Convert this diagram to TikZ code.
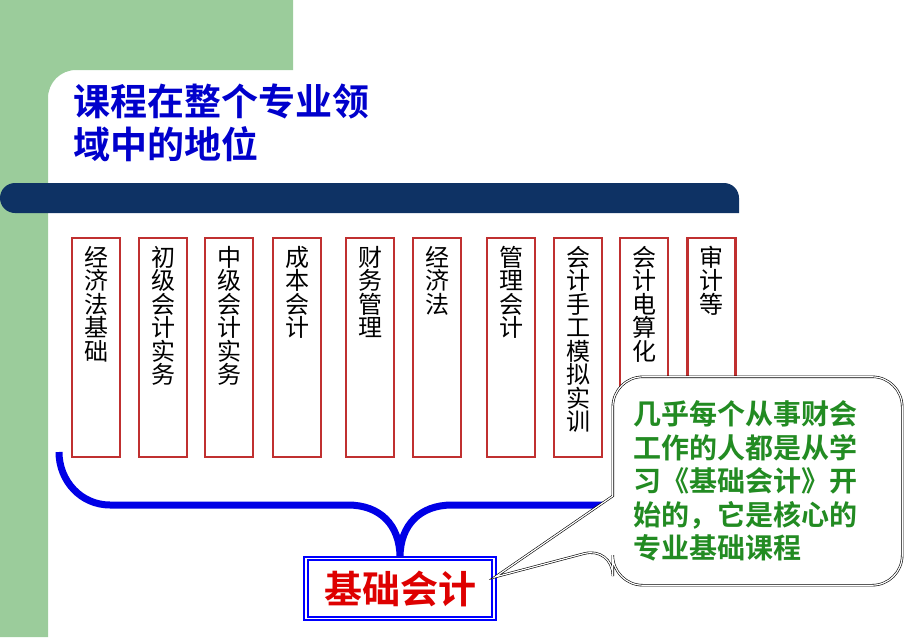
\documentclass[tikz,border=0pt]{standalone}
\usepackage{fontspec}
\setmainfont{Noto Sans CJK SC}[BoldFont={Noto Sans CJK SC Bold}]
\XeTeXlinebreaklocale "zh"
\XeTeXlinebreakskip=0pt plus 1pt
\usepackage{tikz}

\definecolor{bggreen}{RGB}{155,204,155}
\definecolor{barnavy}{RGB}{14,50,100}
\definecolor{headblue}{RGB}{0,0,204}
\definecolor{boxred}{RGB}{192,48,48}
\definecolor{braceblue}{RGB}{0,0,230}
\definecolor{basered}{RGB}{222,0,0}
\definecolor{notegreen}{RGB}{34,139,34}

\begin{document}
\begin{tikzpicture}[x=1pt, y=-1pt]
    \tikzstyle{subject} = [rectangle, draw=boxred, line width=2.5pt, fill=white, inner sep=0pt, minimum width=48pt, minimum height=219pt]
    \tikzstyle{subjtext} = [anchor=north, yshift=-9pt, inner sep=0pt, text width=24pt, align=center, font=\fontsize{24}{23.5}\selectfont]
    \tikzstyle{headline} = [anchor=north west, inner sep=0pt, align=left, text=headblue, font=\fontsize{37}{43}\selectfont\bfseries]
    \tikzstyle{basebox} = [rectangle, draw=blue, double=white, line width=2.2pt, double distance=1.3pt, fill=white, inner sep=0pt, minimum width=188pt, minimum height=60pt, text=basered, font=\fontsize{38}{40}\selectfont\bfseries]
    \tikzstyle{notearea} = [rectangle, inner sep=0pt, minimum width=289pt, minimum height=208pt]
    \tikzstyle{notetext} = [inner sep=0pt, align=left, text=notegreen, font=\fontsize{28}{33.5}\selectfont\bfseries]
    \tikzstyle{brace} = [braceblue, line width=7pt]
    \tikzstyle{calloutline} = [draw=black, line width=0.6pt, double=white, double distance=1.2pt, fill=white]
    \useasboundingbox (0,0) rectangle (920,637);
    % background
    \fill[bggreen] (0,0) -- (293,0) -- (293,70) -- (76,70) .. controls (60.5,70) and (48,82.5) .. (48,98)
        -- (48,637) -- (0,637) -- cycle;
    \fill[barnavy, rounded corners=15pt] (0,183) -- (739,183) [sharp corners] -- (739,213) [rounded corners=15pt] -- (0,213) -- cycle;
    \node[headline] (head) at (73,84) {课程在整个专业领\\域中的地位};
    % course boxes
    \node[subject] (s1) at (96,347.5) {};    \node[subjtext] at (s1.north) {经济法基础};
    \node[subject] (s2) at (163,347.5) {};   \node[subjtext] at (s2.north) {初级会计实务};
    \node[subject] (s3) at (229,347.5) {};   \node[subjtext] at (s3.north) {中级会计实务};
    \node[subject] (s4) at (297,347.5) {};   \node[subjtext] at (s4.north) {成本会计};
    \node[subject] (s5) at (370,347.5) {};   \node[subjtext] at (s5.north) {财务管理};
    \node[subject] (s6) at (437,347.5) {};   \node[subjtext] at (s6.north) {经济法};
    \node[subject] (s7) at (511,347.5) {};   \node[subjtext] at (s7.north) {管理会计};
    \node[subject] (s8) at (578,347.5) {};   \node[subjtext] at (s8.north) {会计手工模拟实训};
    \node[subject] (s9) at (644,347.5) {};   \node[subjtext] at (s9.north) {会计电算化};
    \node[subject] (s10) at (711.5,347.5) {}; \node[subjtext] at (s10.north) {审计等};
    % brace and base course
    \node[basebox] (base) at (400,588.5) {基础会计};
    \draw[brace] (59,452) .. controls (59,481) and (81,505) .. (110,505) -- (348,505)
        .. controls (380,505) and (400,525) .. (base.north)
        .. controls (400,525) and (420,505) .. (452,505) -- (690,505)
        .. controls (719,505) and (741,481) .. (741,452);
    % note
    \node[notearea] (note) at (757.5,481) {};
    \draw[calloutline, rounded corners=30pt] ([yshift=-15pt]note.west) -- (note.north west) -- (note.north east)
        -- (note.south east) -- (note.south west) -- ([yshift=-65pt]note.west) [sharp corners]
        -- ([yshift=11.5pt]base.east) -- cycle;
    \node[notetext] (say) at (745,481) {几乎每个从事财会\\工作的人都是从学\\习《基础会计》开\\始的，它是核心的\\专业基础课程};
\end{tikzpicture}
\end{document}
